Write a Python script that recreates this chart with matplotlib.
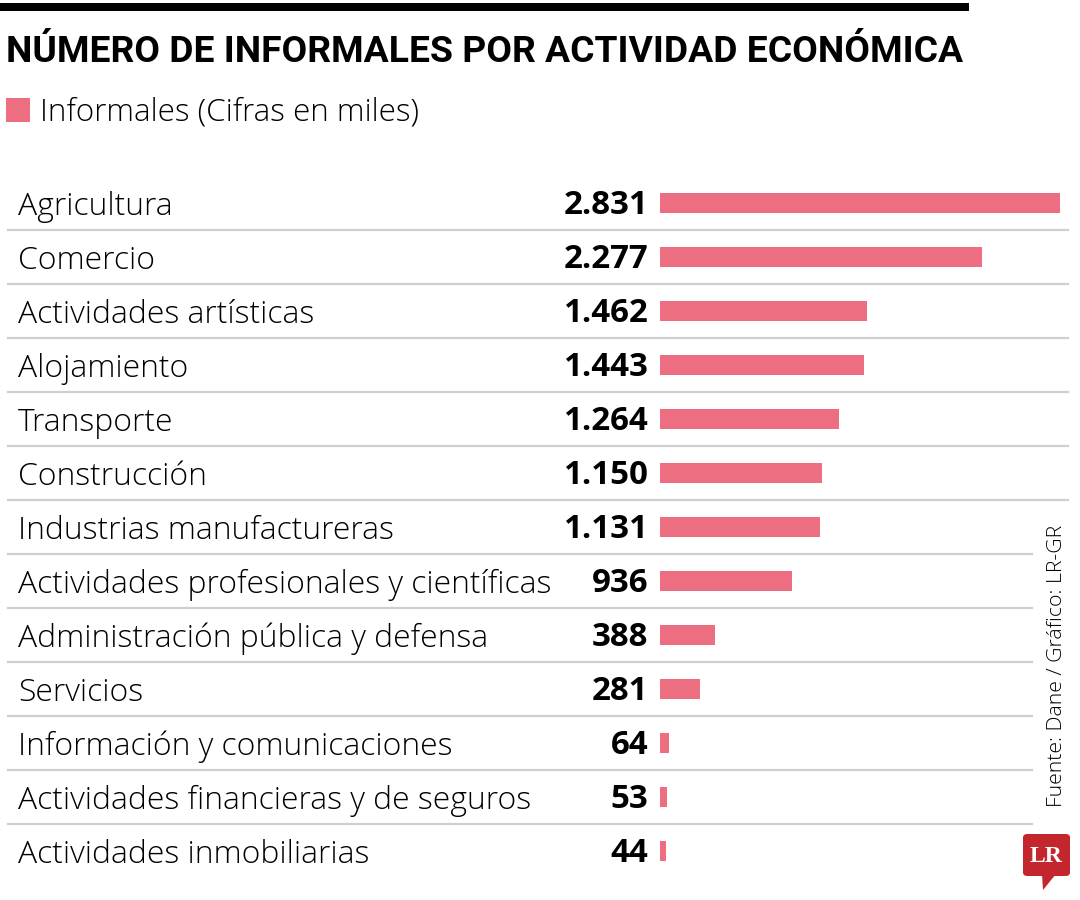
import matplotlib
matplotlib.use("Agg")
import matplotlib.pyplot as plt
from matplotlib.transforms import blended_transform_factory
from matplotlib.patches import FancyBboxPatch, Polygon, Rectangle

# datos (cifras en miles)
actividades = [
    "Agricultura", "Comercio", "Actividades artísticas", "Alojamiento",
    "Transporte", "Construcción", "Industrias manufactureras",
    "Actividades profesionales y científicas", "Administración pública y defensa",
    "Servicios", "Información y comunicaciones",
    "Actividades financieras y de seguros", "Actividades inmobiliarias",
]
informales = [2831, 2277, 1462, 1443, 1264, 1150, 1131, 936, 388, 281, 64, 53, 44]

titulo = "NÚMERO DE INFORMALES POR ACTIVIDAD ECONÓMICA"
leyenda = "Informales (Cifras en miles)"
fuente = "Fuente: Dane / Gráfico: LR-GR"

ROSA = "#EC6E80"
GRIS = "#CFCFCF"
W, H = 1080, 900

fig = plt.figure(figsize=(10.8, 9), dpi=100)
fig.patch.set_facecolor("white")
renderer = fig.canvas.get_renderer()

LIGHT = ["Open Sans", "Lato", "DejaVu Sans"]
BOLD = ["Open Sans", "DejaVu Sans"]


def fx(px):
    return px / W


def fy(py):
    return 1 - py / H


def ajustar(t, ancho):
    # escala la fuente para que el texto ocupe el ancho deseado (px)
    bb = t.get_window_extent(renderer)
    t.set_fontsize(t.get_fontsize() * ancho / bb.width)
    return t.get_fontsize()


# franja negra superior
fig.patches.append(Rectangle((0, fy(11)), fx(969), 8 / H, transform=fig.transFigure,
                             color="black", lw=0))

t = fig.text(fx(6), fy(62), titulo, fontsize=20, fontweight="bold",
             family=["Roboto", "DejaVu Sans"], va="baseline")
ajustar(t, 956)

# leyenda
fig.patches.append(Rectangle((fx(6), fy(122)), fx(24), 24 / H, transform=fig.transFigure,
                             color=ROSA, lw=0))
t = fig.text(fx(40), fy(121), leyenda, fontsize=20, fontweight="light",
             family=LIGHT, va="baseline")
ajustar(t, 380)

# barras
top, bottom = 176, 878
ax = fig.add_axes([fx(660), fy(bottom), fx(1060 - 660), (bottom - top) / H])
n = len(actividades)
pos = list(range(n))
ax.barh(pos, informales, height=20 / 54, color=ROSA, lw=0)
ax.set_xlim(0, max(informales))
ax.set_ylim(n - 0.5, -0.5)
ax.axis("off")

tr = blended_transform_factory(fig.transFigure, ax.transData)

# tamaño de etiquetas según la más larga
larga = max(actividades, key=len)
tmp = fig.text(0, 0, larga, fontsize=20, fontweight="light", family=LIGHT)
fs_lab = ajustar(tmp, 534)
tmp.remove()
tmp = fig.text(0, 0, "2.831", fontsize=20, fontweight="bold", family=BOLD)
fs_val = ajustar(tmp, 85)
tmp.remove()

for i, (act, val) in enumerate(zip(actividades, informales)):
    fig.text(fx(18), i + 0.22, act, transform=tr, fontsize=fs_lab,
             fontweight="light", family=LIGHT, va="baseline", ha="left")
    etiqueta = f"{val:,}".replace(",", ".")
    fig.text(fx(648), i + 0.21, etiqueta, transform=tr, fontsize=fs_val,
             fontweight="bold", family=BOLD, va="baseline", ha="right")

# líneas separadoras
for i in range(n - 1):
    fin = 1068 if i < 6 else 1032
    fig.add_artist(plt.Line2D([fx(8), fx(fin)], [i + 0.5, i + 0.5], transform=tr,
                              color=GRIS, lw=1.6))

# fuente vertical
t = fig.text(fx(1057), fy(525), fuente, rotation=90, fontsize=14, fontweight="light",
             family=LIGHT, va="top", ha="center")
bb = t.get_window_extent(renderer)
t.set_fontsize(t.get_fontsize() * 285 / bb.height)

# logo LR
fig.patches.append(FancyBboxPatch((fx(1023), fy(876)), fx(47), 42 / H,
                                  boxstyle="round,pad=0,rounding_size=0.004",
                                  transform=fig.transFigure, color="#C3272D", lw=0))
fig.patches.append(Polygon([(fx(1042), fy(874)), (fx(1056), fy(874)), (fx(1043), fy(890))],
                           closed=True, transform=fig.transFigure, color="#C3272D", lw=0))
fig.text(fx(1046), fy(856), "LR", fontsize=17, fontweight="bold", color="white",
         family=["Liberation Serif", "DejaVu Serif"], ha="center", va="center")

fig.savefig("out.png", dpi=100, facecolor="white")
